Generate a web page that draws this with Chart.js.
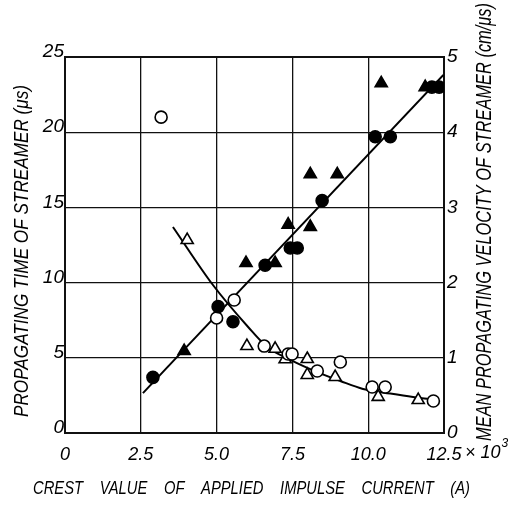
<!DOCTYPE html>
<html>
<head>
<meta charset="utf-8">
<script src="https://cdn.jsdelivr.net/npm/chart.js@4/dist/chart.umd.min.js"></script>
<style>
  html, body { margin: 0; padding: 0; background: #fff; }
  canvas { display: block; }
</style>
</head>
<body>
<canvas id="chart" width="512" height="510"></canvas>
<script>
const FONT = "'Liberation Sans', Arial, sans-serif";

// open markers: propagating time of streamer (left axis, us)
const timeCircleX = [3.17, 5.0, 5.58, 6.57, 7.36, 7.49, 8.32, 9.08, 10.13, 10.56, 12.15];
const timeCircleY = [21.0, 7.65, 8.84, 5.78, 5.25, 5.25, 4.12, 4.72, 3.06, 3.06, 2.13];
const timeTriX = [4.03, 6.0, 6.93, 7.26, 7.99, 7.99, 8.91, 10.33, 11.65];
const timeTriY = [12.83, 5.78, 5.6, 4.9, 4.92, 3.86, 3.72, 2.4, 2.19];

// filled markers: mean propagating velocity (right axis, cm/us)
const velCircleX = [2.9, 5.05, 5.54, 6.6, 7.43, 7.66, 8.48, 10.23, 10.73, 12.1, 12.34];
const velCircleY = [0.74, 1.68, 1.48, 2.23, 2.46, 2.46, 3.09, 3.94, 3.94, 4.6, 4.6];
const velTriX = [3.93, 5.97, 6.93, 7.36, 8.09, 8.09, 8.98, 10.43, 11.88];
const velTriY = [1.09, 2.26, 2.26, 2.77, 2.74, 3.44, 3.44, 4.65, 4.6];

// hand-drawn curves
const timeCurveX = [3.56, 4.88, 6.04, 6.67, 7.45, 8.32, 9.08, 9.83, 10.73, 11.48, 12.3];
const timeCurveY = [13.7, 9.84, 7.05, 5.72, 4.85, 4.05, 3.46, 2.93, 2.62, 2.39, 2.19];
const velLineX = [2.57, 12.48];
const velLineY = [0.53, 4.76];

// axes
const xTicks = [0, 2.5, 5.0, 7.5, 10.0, 12.5];
const timeTicks = [0, 5, 10, 15, 20, 25];
const velTicks = [0, 1, 2, 3, 4, 5];

const xTitle = ['CREST', 'VALUE', 'OF', 'APPLIED', 'IMPULSE', 'CURRENT', '(A)'];
const leftTitle = 'PROPAGATING TIME OF STREAMER (\u03bcs)';
const rightTitle = 'MEAN PROPAGATING VELOCITY OF STREAMER (cm/\u03bcs)';

const pts = (xs, ys) => xs.map((x, i) => ({ x, y: ys[i] }));

const marker = (data, style, filled, axis) => ({
  data,
  yAxisID: axis,
  pointStyle: style,
  pointRadius: style === 'triangle' ? 7 : 6,
  pointBackgroundColor: filled ? '#000' : '#fff',
  pointBorderColor: '#000',
  pointBorderWidth: 1.6,
  showLine: false,
});

const curve = (data, axis, tension) => ({
  data,
  yAxisID: axis,
  showLine: true,
  pointRadius: 0,
  borderColor: '#000',
  borderWidth: 2,
  tension,
  cubicInterpolationMode: tension ? 'monotone' : 'default',
});

// text stretched / squeezed to a given length
const fitText = (ctx, text, x, y, len, angle, size) => {
  ctx.save();
  ctx.translate(x, y);
  ctx.rotate(angle);
  ctx.font = `italic ${size}px ${FONT}`;
  const w = ctx.measureText(text).width;
  ctx.scale(len / w, 1);
  ctx.textAlign = 'center';
  ctx.textBaseline = 'middle';
  ctx.fillStyle = '#000';
  ctx.fillText(text, 0, 0);
  ctx.restore();
};

const titles = {
  id: 'titles',
  afterDraw(chart) {
    const { ctx, scales } = chart;
    fitText(ctx, leftTitle, 22, 251, 332, -Math.PI / 2, 21);
    fitText(ctx, rightTitle, 485, 222, 438, -Math.PI / 2, 22);

    // x title: squeezed words spread over the width
    ctx.save();
    ctx.font = `italic 18px ${FONT}`;
    ctx.fillStyle = '#000';
    ctx.textBaseline = 'middle';
    const sq = 0.82;
    const widths = xTitle.map(w => ctx.measureText(w).width * sq);
    const total = widths.reduce((a, b) => a + b, 0);
    const gap = (470 - 33 - total) / (xTitle.length - 1);
    let px = 33;
    xTitle.forEach((w, i) => {
      ctx.save();
      ctx.translate(px, 489);
      ctx.scale(sq, 1);
      ctx.fillText(w, 0, 0);
      ctx.restore();
      px += widths[i] + gap;
    });

    // exponent of the last x tick
    const x0 = scales.x.getPixelForValue(12.5) + 21;
    ctx.font = `italic 18px ${FONT}`;
    ctx.fillText('\u00d7 10', x0, 453);
    const w10 = ctx.measureText('\u00d7 10').width;
    ctx.font = `italic 12px ${FONT}`;
    ctx.fillText('3', x0 + w10 + 1, 444);
    ctx.restore();
  }
};

new Chart(document.getElementById('chart'), {
  type: 'scatter',
  data: {
    datasets: [
      marker(pts(velCircleX, velCircleY), 'circle', true, 'y2'),
      marker(pts(velTriX, velTriY), 'triangle', true, 'y2'),
      marker(pts(timeCircleX, timeCircleY), 'circle', false, 'y'),
      marker(pts(timeTriX, timeTriY), 'triangle', false, 'y'),
      curve(pts(velLineX, velLineY), 'y2', 0),
      curve(pts(timeCurveX, timeCurveY), 'y', 0.4),
    ]
  },
  options: {
    responsive: false,
    animation: false,
    devicePixelRatio: 1,
    layout: { padding: { top: 57, left: 0, right: 0, bottom: 0 } },
    plugins: { legend: { display: false }, tooltip: { enabled: false } },
    scales: {
      x: {
        type: 'linear',
        min: 0, max: 12.5,
        afterBuildTicks: s => { s.ticks = xTicks.map(v => ({ value: v })); },
        afterFit: s => { s.height = 77; },
        grid: {
          color: '#111',
          lineWidth: c => (c.index === 0 || c.index === xTicks.length - 1) ? 2 : 1.3,
          drawTicks: false,
        },
        border: { color: '#111', width: 2 },
        ticks: {
          padding: 11,
          color: '#000',
          font: { family: FONT, size: 18, style: 'italic' },
          callback: v => v === 0 ? '0' : v.toFixed(1),
          maxRotation: 0,
        },
      },
      y: {
        position: 'left',
        min: 0, max: 25,
        afterBuildTicks: s => { s.ticks = timeTicks.map(v => ({ value: v })); },
        afterFit: s => { s.width = 65; },
        grid: {
          color: '#111',
          lineWidth: c => (c.index === 0 || c.index === timeTicks.length - 1) ? 2 : 1.3,
          drawTicks: false,
        },
        border: { color: '#111', width: 2 },
        ticks: {
          padding: 1,
          labelOffset: -5,
          color: '#000',
          font: { family: FONT, size: 19, style: 'italic' },
        },
      },
      y2: {
        position: 'right',
        min: 0, max: 5,
        afterBuildTicks: s => { s.ticks = velTicks.map(v => ({ value: v })); },
        afterFit: s => { s.width = 68; },
        grid: { display: false, drawTicks: false },
        border: { color: '#111', width: 2 },
        ticks: {
          padding: 3,
          color: '#000',
          font: { family: FONT, size: 19, style: 'italic' },
        },
      },
    },
  },
  plugins: [titles],
});
</script>
</body>
</html>
